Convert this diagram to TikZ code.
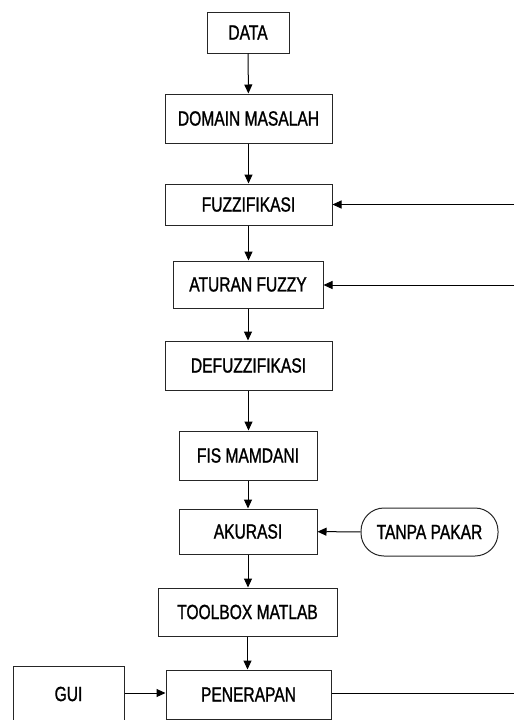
\documentclass[tikz,border=0pt]{standalone}
\usepackage{fontspec}
\setmainfont{Liberation Sans}[FakeStretch=0.76,FakeBold=1.2]
\usetikzlibrary{arrows.meta}
\begin{document}
\begin{tikzpicture}[x=1pt,y=-1pt,
  box/.style={draw=black!85,line width=1pt,rectangle,inner sep=0pt,font=\fontsize{20.5}{24}\selectfont},
  pill/.style={box,rounded corners=23pt},
  arr/.style={draw=black,line width=1pt,-{Triangle[length=9pt,width=8pt]}},
  ln/.style={draw=black,line width=1pt}]
\useasboundingbox (0,0) rectangle (514,720);
\node[box,minimum width=82pt,minimum height=41pt] (data) at (248,32.5) {DATA};
\node[box,minimum width=167pt,minimum height=49pt] (domain) at (248.5,118.5) {DOMAIN MASALAH};
\node[box,minimum width=167pt,minimum height=41pt] (fuzz) at (248.5,204.5) {FUZZIFIKASI};
\node[box,minimum width=150pt,minimum height=47pt] (aturan) at (248,284.5) {ATURAN FUZZY};
\node[box,minimum width=167pt,minimum height=49pt] (defuzz) at (248.5,365.5) {DEFUZZIFIKASI};
\node[box,minimum width=138pt,minimum height=49pt] (fis) at (248,455.5) {FIS MAMDANI};
\node[box,minimum width=138pt,minimum height=45pt] (akurasi) at (248,531.5) {AKURASI};
\node[pill,minimum width=137pt,minimum height=48pt] (tanpa) at (429.5,532) {TANPA PAKAR};
\node[box,minimum width=179pt,minimum height=48pt] (toolbox) at (247.5,612) {TOOLBOX MATLAB};
\node[box,minimum width=165pt,minimum height=49pt] (penerapan) at (248.5,694.5) {PENERAPAN};
\node[box,minimum width=111pt,minimum height=56pt] (gui) at (68.5,694) {GUI};
\coordinate (r1) at (514,204.5);
\coordinate (r2) at (514,285);
\coordinate (r3) at (514,693);
\draw[arr] (data) -- (domain);
\draw[arr] (domain) -- (domain.south |- fuzz.north);
\draw[arr] (fuzz) -- (fuzz.south |- aturan.north);
\draw[arr] (aturan) -- (aturan.south |- defuzz.north);
\draw[arr] (defuzz) -- (defuzz.south |- fis.north);
\draw[arr] (fis) -- (akurasi);
\draw[arr] (akurasi) -- (akurasi.south |- toolbox.north);
\draw[arr] (toolbox) -- (toolbox.south |- penerapan.north);
\draw[arr] (r1) -- (fuzz.east |- r1);
\draw[arr] (r2) -- (aturan.east |- r2);
\draw[arr] (tanpa) -- (akurasi);
\draw[arr] (gui.east |- r3) -- (penerapan.west |- r3);
\draw[ln] (penerapan.east |- r3) -- (r3);
\end{tikzpicture}
\end{document}
